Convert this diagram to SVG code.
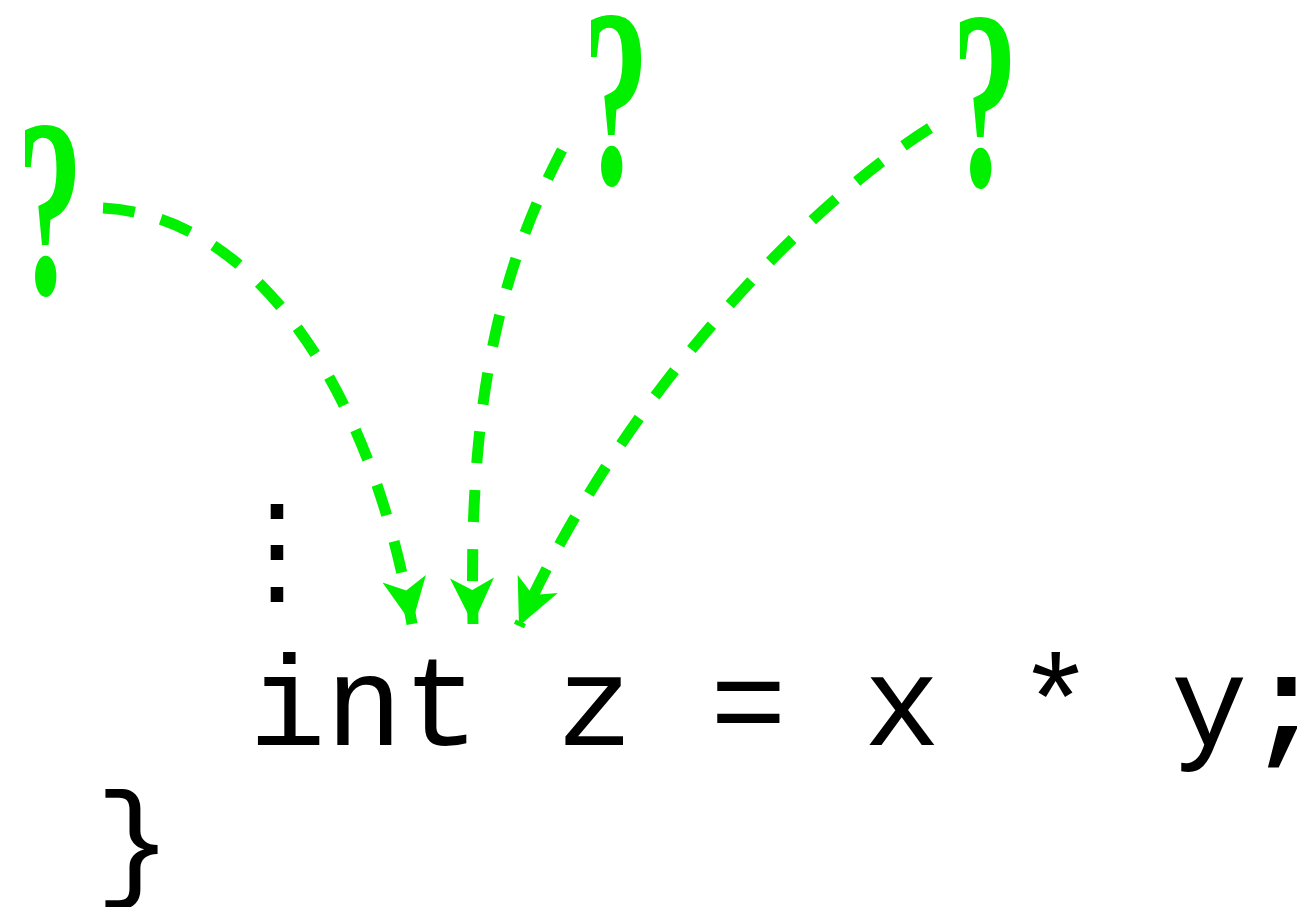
<svg xmlns="http://www.w3.org/2000/svg" width="1297" height="907" viewBox="0 0 1297 907">
<style>
.arr{fill:none;stroke:#00f000;stroke-width:11;stroke-dasharray:32 27}
</style>
<defs>
<marker id="ah" markerUnits="userSpaceOnUse" orient="auto" markerWidth="60" markerHeight="60" refX="0" refY="0" viewBox="-50 -30 60 60" overflow="visible">
<path d="M0,0 L-46,-22 L-34,0 L-46,22 Z" fill="#00f000"/>
</marker>
</defs>
<rect width="1297" height="907" fill="#fff"/>
<g font-family="Liberation Serif, serif" font-weight="bold" font-size="254" fill="#00f000">
<g id="q1"><text x="17" y="293" textLength="66" lengthAdjust="spacingAndGlyphs">?</text></g>
<g id="q2"><text x="583" y="183" textLength="66" lengthAdjust="spacingAndGlyphs">?</text></g>
<g id="q3"><text x="952" y="185" textLength="66" lengthAdjust="spacingAndGlyphs">?</text></g>
</g>
<g id="connectors">
<path class="arr" d="M103,208 C250,215 370,380 412,624" marker-end="url(#ah)"/>
<path class="arr" d="M562,150 C500,270 468,400 473,624" marker-end="url(#ah)"/>
<path class="arr" d="M930,128 C800,210 620,400 519,626" marker-end="url(#ah)"/>
</g>
<g id="code" font-family="Liberation Mono, Courier New, monospace" font-size="128" fill="#000">
<text x="277" y="591" font-size="122" text-anchor="middle">⋮</text>
<text x="249" y="745">int z = x * y<tspan font-weight="bold">;</tspan></text>
<text x="95" y="882">}</text>
</g>
</svg>
